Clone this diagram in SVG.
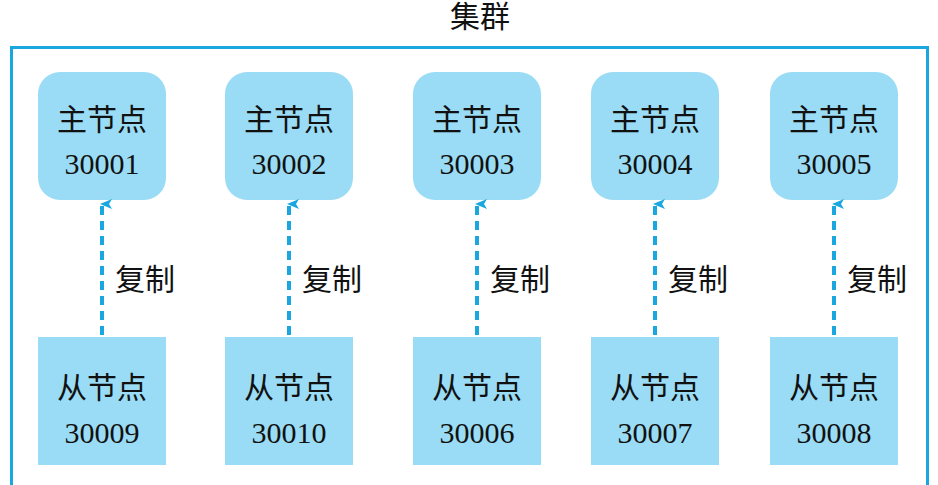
<svg xmlns="http://www.w3.org/2000/svg" width="938" height="485" viewBox="0 0 938 485">
<defs>
<style>
.n{fill:#9adcf5}
.t{font-family:"Liberation Serif","Noto Sans CJK SC",serif;font-size:30px;fill:#111;text-anchor:middle}
.l{font-family:"Liberation Serif","Noto Sans CJK SC",serif;font-size:30px;fill:#111}
.c{stroke:#1aa7e0;stroke-width:4;stroke-dasharray:9,6;fill:none}
</style>
<marker id="a" markerWidth="10" markerHeight="12" refX="5" refY="2" orient="auto-start-reverse" markerUnits="userSpaceOnUse" viewBox="0 0 10 12"><path d="M0,12 L5,0 L10,12 L5,9 Z" fill="#1aa7e0"/></marker>
</defs>
<rect width="938" height="485" fill="#fff"/>
<text x="480" y="27" class="t">集群</text>
<rect x="11.5" y="47.5" width="916" height="445" fill="none" stroke="#1aa7e0" stroke-width="3"/>
<g id="m1"><rect class="n" x="38" y="72" width="128" height="128" rx="22"/><text class="t" x="102" y="130">主节点</text><text class="t" x="102" y="174">30001</text></g>
<g id="m2"><rect class="n" x="225" y="72" width="128" height="128" rx="22"/><text class="t" x="289" y="130">主节点</text><text class="t" x="289" y="174">30002</text></g>
<g id="m3"><rect class="n" x="413" y="72" width="128" height="128" rx="22"/><text class="t" x="477" y="130">主节点</text><text class="t" x="477" y="174">30003</text></g>
<g id="m4"><rect class="n" x="591" y="72" width="128" height="128" rx="22"/><text class="t" x="655" y="130">主节点</text><text class="t" x="655" y="174">30004</text></g>
<g id="m5"><rect class="n" x="770" y="72" width="128" height="128" rx="22"/><text class="t" x="834" y="130">主节点</text><text class="t" x="834" y="174">30005</text></g>
<g id="s1"><rect class="n" x="38" y="337" width="128" height="128"/><text class="t" x="102" y="398">从节点</text><text class="t" x="102" y="443">30009</text></g>
<g id="s2"><rect class="n" x="225" y="337" width="128" height="128"/><text class="t" x="289" y="398">从节点</text><text class="t" x="289" y="443">30010</text></g>
<g id="s3"><rect class="n" x="413" y="337" width="128" height="128"/><text class="t" x="477" y="398">从节点</text><text class="t" x="477" y="443">30006</text></g>
<g id="s4"><rect class="n" x="591" y="337" width="128" height="128"/><text class="t" x="655" y="398">从节点</text><text class="t" x="655" y="443">30007</text></g>
<g id="s5"><rect class="n" x="770" y="337" width="128" height="128"/><text class="t" x="834" y="398">从节点</text><text class="t" x="834" y="443">30008</text></g>
<g id="connectors">
<path class="c" d="M102,335 V204" marker-end="url(#a)"/>
<path class="c" d="M289,335 V204" marker-end="url(#a)"/>
<path class="c" d="M477,335 V204" marker-end="url(#a)"/>
<path class="c" d="M655,335 V204" marker-end="url(#a)"/>
<path class="c" d="M834,335 V204" marker-end="url(#a)"/>
<text class="l" x="115" y="290">复制</text>
<text class="l" x="302" y="290">复制</text>
<text class="l" x="490" y="290">复制</text>
<text class="l" x="668" y="290">复制</text>
<text class="l" x="847" y="290">复制</text>
</g>
</svg>
